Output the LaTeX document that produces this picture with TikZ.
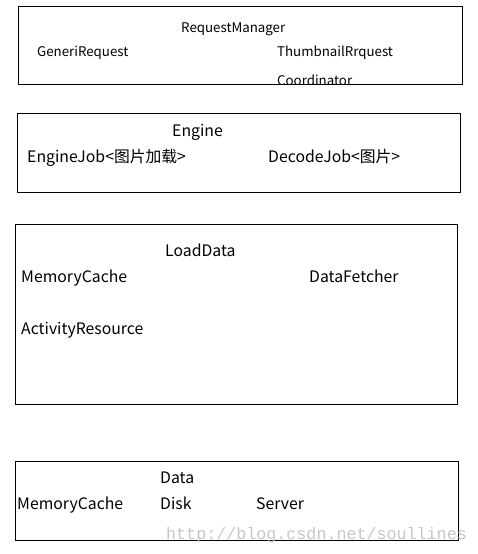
\documentclass[tikz,border=0pt]{standalone}
\usepackage{fontspec}
\setmainfont{Noto Sans CJK SC}
\newfontfamily\markfont{Liberation Mono}
\usetikzlibrary{positioning}

\begin{document}
\begin{tikzpicture}[x=1pt, y=-1pt,
		lbl/.style={anchor=base west, inner sep=0pt, font=\fontsize{15.8}{15.8}\selectfont},
		smalllbl/.style={lbl, font=\fontsize{13.3}{13.3}\selectfont},
		layer/.style={draw=black, line width=1pt}]
				\useasboundingbox (0,0) rectangle (477,554);
				% RequestManager layer
				\draw[layer] (18,6) rectangle (462,84);
				\begin{scope}
					\clip (18,6) rectangle (462,84);
					\node[smalllbl] (RM) at (181,32) {RequestManager};
					\node[smalllbl] (GR) at (37,56) {GeneriRequest};
					\node[smalllbl] (TR) at (277,56) {ThumbnailRrquest};
					\node[smalllbl] (CO) at (277,85.5) {Coordinator};
				\end{scope}
				% Engine layer
				\draw[layer] (17,113) rectangle (460,192);
				\node[lbl] (EN) at (172,136) {Engine};
				\node[lbl] (EJ) at (27,162) {EngineJob<图片加载>};
				\node[lbl] (DJ) at (268,162) {DecodeJob<图片>};
				% LoadData layer
				\draw[layer] (15,224) rectangle (457,404);
				\node[lbl] (LD) at (165,256) {LoadData};
				\node[lbl] (MC) at (21,282) {MemoryCache};
				\node[lbl] (DF) at (309,282) {DataFetcher};
				\node[lbl] (AR) at (21,334) {ActivityResource};
				% Data layer
				\draw[layer] (15,461) rectangle (458,540);
				\node[lbl] (DA) at (160,483) {Data};
				\node[lbl] (DM) at (17,509) {MemoryCache};
				\node[lbl] (DK) at (160,509) {Disk};
				\node[lbl] (SV) at (256,509) {Server};
				% watermark
				\node[anchor=base west, inner sep=0pt, text=gray!45, font=\markfont\fontsize{16.7}{16.7}\selectfont] (WM) at (166,539) {http://blog.csdn.net/soullines};
			\end{tikzpicture}
\end{document}
